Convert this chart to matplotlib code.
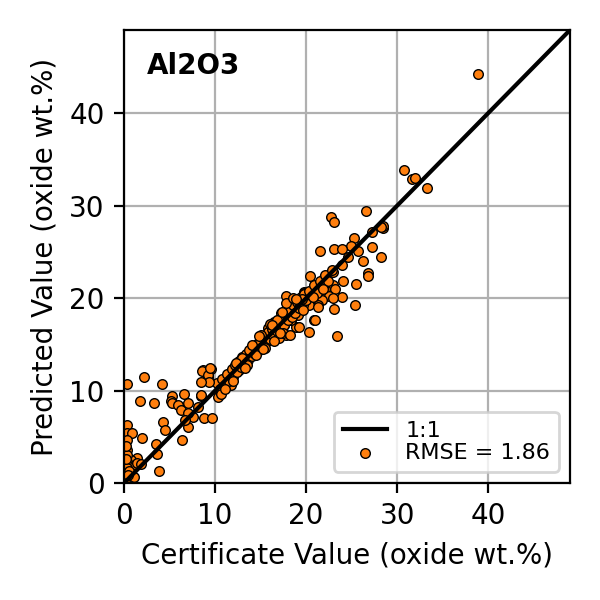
import matplotlib
matplotlib.use("Agg")
import matplotlib.pyplot as plt
import numpy as np

title = "Al2O3"
rmse_label = "RMSE = 1.86"

cert = [
    # outliers / upper region
    38.9, 30.7, 31.6, 32.0, 33.3, 28.5, 28.4,
    22.7, 23.1, 26.6, 28.2, 27.2, 25.3, 24.9, 25.7, 21.5, 23.1, 23.9, 24.6, 27.2,
    28.2, 26.2, 23.9, 26.8, 26.8, 22.9, 20.4, 22.0, 24.0, 25.5, 23.0, 23.2, 22.1,
    21.2, 19.8, 17.8, 22.5, 23.9, 21.7, 23.0, 25.4, 23.1, 21.3, 20.3, 20.9, 20.3,
    23.4, 19.1, 18.9, 17.6, 18.1, 18.3, 16.9, 19.8, 21.3, 21.0, 18.3, 19.2, 17.2,
    16.5, 15.8, 17.8, 17.0, 16.1, 15.0, 14.7, 13.9, 13.1, 12.5, 12.6, 11.7, 11.2,
    11.9, 8.7, 9.5, 9.2, 8.4, 10.3, 10.9, 11.7, 11.4,
    # dense diagonal
    10.2, 10.5, 10.8, 11.0, 11.3, 11.5, 11.8, 12.0, 12.2, 12.4, 12.6, 12.8, 13.0,
    13.2, 13.4, 13.6, 13.8, 14.0, 14.2, 14.4, 14.6, 14.8, 15.0, 15.2, 15.4, 15.6,
    15.8, 16.0, 16.2, 16.4, 16.6, 16.8, 17.0, 17.2, 17.4, 17.6, 17.8, 18.0, 18.2,
    18.4, 18.6, 18.8, 19.0, 19.2, 19.4, 19.6, 19.8, 20.0, 20.3, 20.6, 20.9, 21.2,
    21.5, 21.8, 22.1, 22.4, 22.8,
    10.6, 11.1, 12.0, 13.5, 14.5, 15.5, 16.5, 17.5, 18.2, 16.0, 15.0, 17.8, 18.5,
    12.9, 13.7, 14.9, 16.8, 19.5, 20.7, 21.9,
    13.3, 14.1, 15.3, 16.3, 17.1, 18.9, 19.7, 12.3, 14.8, 17.3,
    # low region
    0.3, 2.2, 4.1, 1.7, 3.3, 5.2, 5.1, 5.2, 6.6, 5.9, 6.2, 7.0, 8.4, 8.1, 7.6,
    7.0, 8.8, 9.6, 4.3, 4.5, 7.0, 6.4, 2.0, 3.6, 3.8, 8.6, 9.2, 9.4, 9.3, 8.4,
    6.7, 3.5,
    0.3, 0.3, 0.9, 0.3, 0.3, 1.4, 0.7, 0.3, 1.2, 0.3, 0.7, 1.1, 0.1, 0.3, 1.4,
    0.2, 0.5, 0.2, 0.4, 1.8,
]
pred = [
    44.2, 33.9, 32.9, 33.0, 31.9, 27.6, 27.8,
    28.8, 28.2, 29.4, 27.7, 27.2, 26.5, 25.6, 25.1, 25.1, 25.3, 25.3, 24.5, 25.5,
    24.5, 24.0, 23.6, 22.7, 22.4, 22.8, 22.4, 22.2, 21.8, 21.5, 21.4, 21.0, 21.0,
    20.8, 20.7, 20.2, 20.2, 20.1, 19.8, 20.0, 19.3, 18.8, 19.2, 19.2, 17.6, 16.3,
    15.9, 18.2, 16.9, 17.1, 18.7, 17.6, 17.6, 20.6, 19.0, 17.6, 19.1, 16.9, 18.4,
    17.4, 16.8, 16.0, 15.7, 15.7, 15.3, 14.4, 13.9, 13.6, 13.1, 12.2, 12.0, 11.1,
    11.1, 12.2, 12.3, 11.5, 9.4, 9.3, 10.3, 10.6, 11.6,
    10.8, 10.2, 11.3, 10.5, 11.8, 11.0, 12.3, 11.5, 12.8, 12.0, 13.2, 12.5, 13.6,
    12.9, 13.9, 13.3, 14.2, 13.7, 14.5, 14.0, 15.0, 14.4, 15.3, 14.8, 15.8, 15.2,
    16.3, 15.6, 16.7, 16.0, 17.2, 16.4, 17.5, 16.8, 17.9, 17.1, 18.3, 17.6, 18.6,
    18.0, 19.2, 18.4, 19.6, 18.9, 20.1, 19.3, 20.4, 19.8, 20.8, 20.2, 21.4, 20.6,
    21.9, 21.2, 22.5, 21.8, 23.0,
    9.6, 10.2, 11.0, 12.8, 13.8, 14.6, 15.4, 16.2, 16.0, 17.2, 16.0, 19.5, 20.0,
    13.5, 14.4, 15.4, 17.6, 19.9, 20.1, 21.0,
    12.4, 14.9, 14.5, 17.1, 16.2, 19.9, 18.7, 13.0, 15.9, 18.5,
    10.7, 11.5, 10.7, 8.9, 8.6, 9.4, 8.9, 8.7, 9.6, 8.4, 7.9, 8.7, 9.5, 8.2, 7.1,
    7.6, 7.0, 7.0, 6.6, 5.7, 6.1, 4.7, 4.9, 3.1, 1.3, 12.1, 11.7, 12.4, 10.9, 10.9,
    6.8, 4.2,
    6.3, 5.4, 5.4, 4.7, 3.6, 2.7, 2.5, 2.3, 1.9, 1.6, 1.1, 0.7, 0.3, 3.0, 2.2,
    4.0, 1.3, 2.6, 0.9, 2.1,
]

cert = np.array(cert)
pred = np.array(pred)
lim = 49.0

fig = plt.figure(figsize=(3, 3), dpi=200)
ax = fig.add_axes([0.207, 0.195, 0.743, 0.755])
ax.grid(True, color="#b0b0b0", linewidth=0.8)
ax.set_axisbelow(True)
ax.plot([0, lim], [0, lim], color="black", linewidth=1.5, label="1:1", zorder=3)
ax.scatter(cert, pred, s=12, color="#ff7f0e", edgecolors="black",
           linewidths=0.5, label=rmse_label, zorder=2)
ax.set_xlim(0, lim)
ax.set_ylim(0, lim)
ax.set_xticks([0, 10, 20, 30, 40])
ax.set_yticks([0, 10, 20, 30, 40])
ax.tick_params(labelsize=10)
ax.set_xlabel("Certificate Value (oxide wt.%)", fontsize=10)
ax.set_ylabel("Predicted Value (oxide wt.%)", fontsize=10)
ax.text(0.05, 0.92, title, transform=ax.transAxes, fontsize=10,
        fontweight="bold", va="center")
ax.legend(loc="lower right", fontsize=8, handlelength=2.0,
          borderpad=0.4, labelspacing=0.1)
fig.savefig("out.png", dpi=200)
